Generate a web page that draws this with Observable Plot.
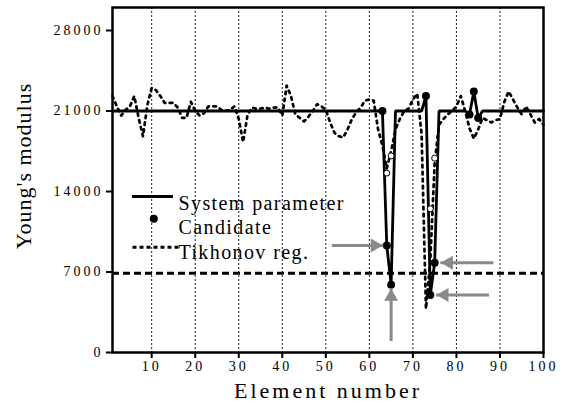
<!DOCTYPE html>
<html><head><meta charset="utf-8">
<script src="https://cdn.jsdelivr.net/npm/d3@7"></script>
<script src="https://cdn.jsdelivr.net/npm/@observablehq/plot@0.6"></script>
<style>
body{margin:0;background:#fff;}
g[aria-label="x-axis tick label"] text, g[aria-label="y-axis tick label"] text{letter-spacing:3px;}
</style>
</head><body><div id="chart"></div>
<script>
// ---- data ----
const elementNumbers = [
  1,2,3,4,5,6,7,8,9,10, 11,12,13,14,15,16,17,18,19,20,
  21,22,23,24,25,26,27,28,29,30, 31,32,33,34,35,36,37,38,39,40,
  41,42,43,44,45,46,47,48,49,50, 51,52,53,54,55,56,57,58,59,60,
  61,62,63,64,65,66,67,68,69,70, 71,72,73,74,75,76,77,78,79,80,
  81,82,83,84,85,86,87,88,89,90, 91,92,93,94,95,96,97,98,99,100
];
const systemParameter = [
  21000,21000,21000,21000,21000,21000,21000,21000,21000,21000,
  21000,21000,21000,21000,21000,21000,21000,21000,21000,21000,
  21000,21000,21000,21000,21000,21000,21000,21000,21000,21000,
  21000,21000,21000,21000,21000,21000,21000,21000,21000,21000,
  21000,21000,21000,21000,21000,21000,21000,21000,21000,21000,
  21000,21000,21000,21000,21000,21000,21000,21000,21000,21000,
  21000,21000,21000,9300,5900,21000,21000,21000,21000,21000,
  21000,21000,22300,5000,7800,21000,21000,21000,21000,21000,
  21000,21000,20700,22700,20400,21000,21000,21000,21000,21000,
  21000,21000,21000,21000,21000,21000,21000,21000,21000,21000
];
const tikhonov = [
  22300,21400,20600,21100,21400,22300,20400,18800,21500,23000,
  22800,22300,21700,21700,21700,21300,20400,20400,21800,21000,
  20600,20800,21400,21400,21400,21100,21000,21100,21400,20300,
  18300,20600,21300,21200,21200,21300,21200,21300,21300,20600,
  23200,22300,20700,20400,20100,20500,21000,21600,21400,21100,
  20000,19100,18800,18700,19400,20300,20900,21300,21900,22000,
  21900,19400,18000,16000,17500,19400,20300,21000,21200,22000,
  22500,19000,3800,8000,16500,19800,20300,20700,21000,21400,
  22300,21000,19500,18600,19400,20400,20200,20000,20200,20300,
  21800,22700,22000,21300,20700,21400,20700,20000,20300,19800
];
const candidateElements = [63,64,65,73,74,75,83,84,85];
const openElements = [64,65,74,75];
const openValues = [15600,17100,12500,16900];
const thresholdValue = [6900];
const arrowTargets = [64,65,75,74];
const arrowDirections = ["right","up","left","left"];
const xTicks = [10,20,30,40,50,60,70,80,90,100];
const gridX = [10,20,30,40,50,60,70,80,90];
const yTicks = [0,7000,14000,21000,28000];
const legendLabels = ["System parameter","Candidate","Tikhonov reg."];
const xTitle = "Element number";
const yTitle = "Young's modulus";

// ---- tables ----
const series = elementNumbers.map((e,i)=>({el:e, sys:systemParameter[i], tik:tikhonov[i]}));
const sysOf = e => systemParameter[elementNumbers.indexOf(e)];
const candidates = candidateElements.map(e=>({el:e, v:sysOf(e)}));
const opens = openElements.map((e,i)=>({el:e, v:openValues[i]}));
const arrows = arrowTargets.map((e,i)=>{
  const v = sysOf(e), d = arrowDirections[i];
  if (d==="right") return {x1:e-12.6, y1:v, x2:e-0.8, y2:v, rot:90};
  if (d==="up") return {x1:e, y1:v-4900, x2:e, y2:v-310, rot:0};
  return {x1:e+13.5, y1:v, x2:e+1.3, y2:v, rot:-90};
});
const headsR = arrows.filter(a=>a.rot===90), headsU = arrows.filter(a=>a.rot===0), headsL = arrows.filter(a=>a.rot===-90);

const serif = "Liberation Serif, Tinos, Times New Roman, Times, serif";
const lineSymbol = len => ({draw(ctx){ctx.moveTo(-len/2,0);ctx.lineTo(len/2,0);}});
const gray = "#8a8a8a";

const svg = Plot.plot({
  width:566, height:405,
  marginLeft:112, marginRight:23, marginTop:7, marginBottom:53,
  style:{background:"#fff", color:"#000", fontFamily:serif},
  x:{domain:[1,100]},
  y:{domain:[0,30000]},
  marks:[
    Plot.ruleX(gridX,{stroke:"#000",strokeWidth:0.9,strokeDasharray:"2,2"}),
    Plot.ruleY(thresholdValue,{stroke:"#000",strokeWidth:3,strokeDasharray:"7,4"}),
    Plot.line(series,{x:"el",y:"tik",stroke:"#000",strokeWidth:2.7,strokeDasharray:"2.6,4.4"}),
    Plot.line(series,{x:"el",y:"sys",stroke:"#000",strokeWidth:2.8,strokeLinejoin:"miter"}),
    Plot.dot(opens,{x:"el",y:"v",r:3,fill:"#fff",stroke:"#000",strokeWidth:1}),
    Plot.dot(candidates,{x:"el",y:"v",r:4,fill:"#000",stroke:"none"}),
    Plot.link(arrows,{x1:"x1",y1:"y1",x2:"x2",y2:"y2",stroke:gray,strokeWidth:3}),
    Plot.dot(headsR,{x:"x2",y:"y2",symbol:"triangle",rotate:90,dx:-8.5,r:5.2,fill:gray,stroke:"none"}),
    Plot.dot(headsU,{x:"x2",y:"y2",symbol:"triangle",rotate:0,dy:8.5,r:5.2,fill:gray,stroke:"none"}),
    Plot.dot(headsL,{x:"x2",y:"y2",symbol:"triangle",rotate:-90,dx:8.5,r:5.2,fill:gray,stroke:"none"}),
    // legend
    Plot.dot([legendLabels[0]],{frameAnchor:"top-left",dx:40,dy:189,symbol:lineSymbol(41),fill:"none",stroke:"#000",strokeWidth:3}),
    Plot.dot([legendLabels[1]],{frameAnchor:"top-left",dx:41.3,dy:211.3,r:4,fill:"#000",stroke:"none"}),
    Plot.dot([legendLabels[2]],{frameAnchor:"top-left",dx:43,dy:239.7,symbol:lineSymbol(46),fill:"none",stroke:"#000",strokeWidth:3,strokeDasharray:"4,3"}),
    Plot.text([legendLabels.join("\n")],{frameAnchor:"top-left",dx:66,dy:185,lineAnchor:"top",textAnchor:"start",lineHeight:1.225,fontSize:20,fontFamily:serif,fill:"#000"}),
    // titles
    Plot.text([xTitle],{frameAnchor:"bottom",dy:45,lineAnchor:"bottom",textAnchor:"middle",fontSize:22,fontFamily:serif,fill:"#000"}),
    Plot.text([yTitle],{frameAnchor:"left",rotate:-90,dx:-89,dy:-14,lineAnchor:"middle",textAnchor:"middle",fontSize:22,fontFamily:serif,fill:"#000"}),
    Plot.frame({stroke:"#000",strokeWidth:2.5}),
    Plot.axisX({ticks:xTicks,tickSize:6,tickPadding:3,strokeWidth:2,fontSize:14,fontFamily:serif,label:null,tickFormat:d=>String(d)}),
    Plot.axisY({ticks:yTicks,tickSize:6,tickPadding:3,strokeWidth:2,fontSize:14,fontFamily:serif,label:null,tickFormat:d=>String(d)})
  ]
});
for (const t of svg.querySelectorAll("text")) {
  const c = t.textContent;
  if (c === xTitle) t.style.letterSpacing = "3px";
  else if (c === yTitle) t.style.letterSpacing = "1px";
  else if (c.startsWith(legendLabels[0])) t.style.letterSpacing = "1.4px";
}
document.getElementById("chart").appendChild(svg);
</script>
</body></html>
